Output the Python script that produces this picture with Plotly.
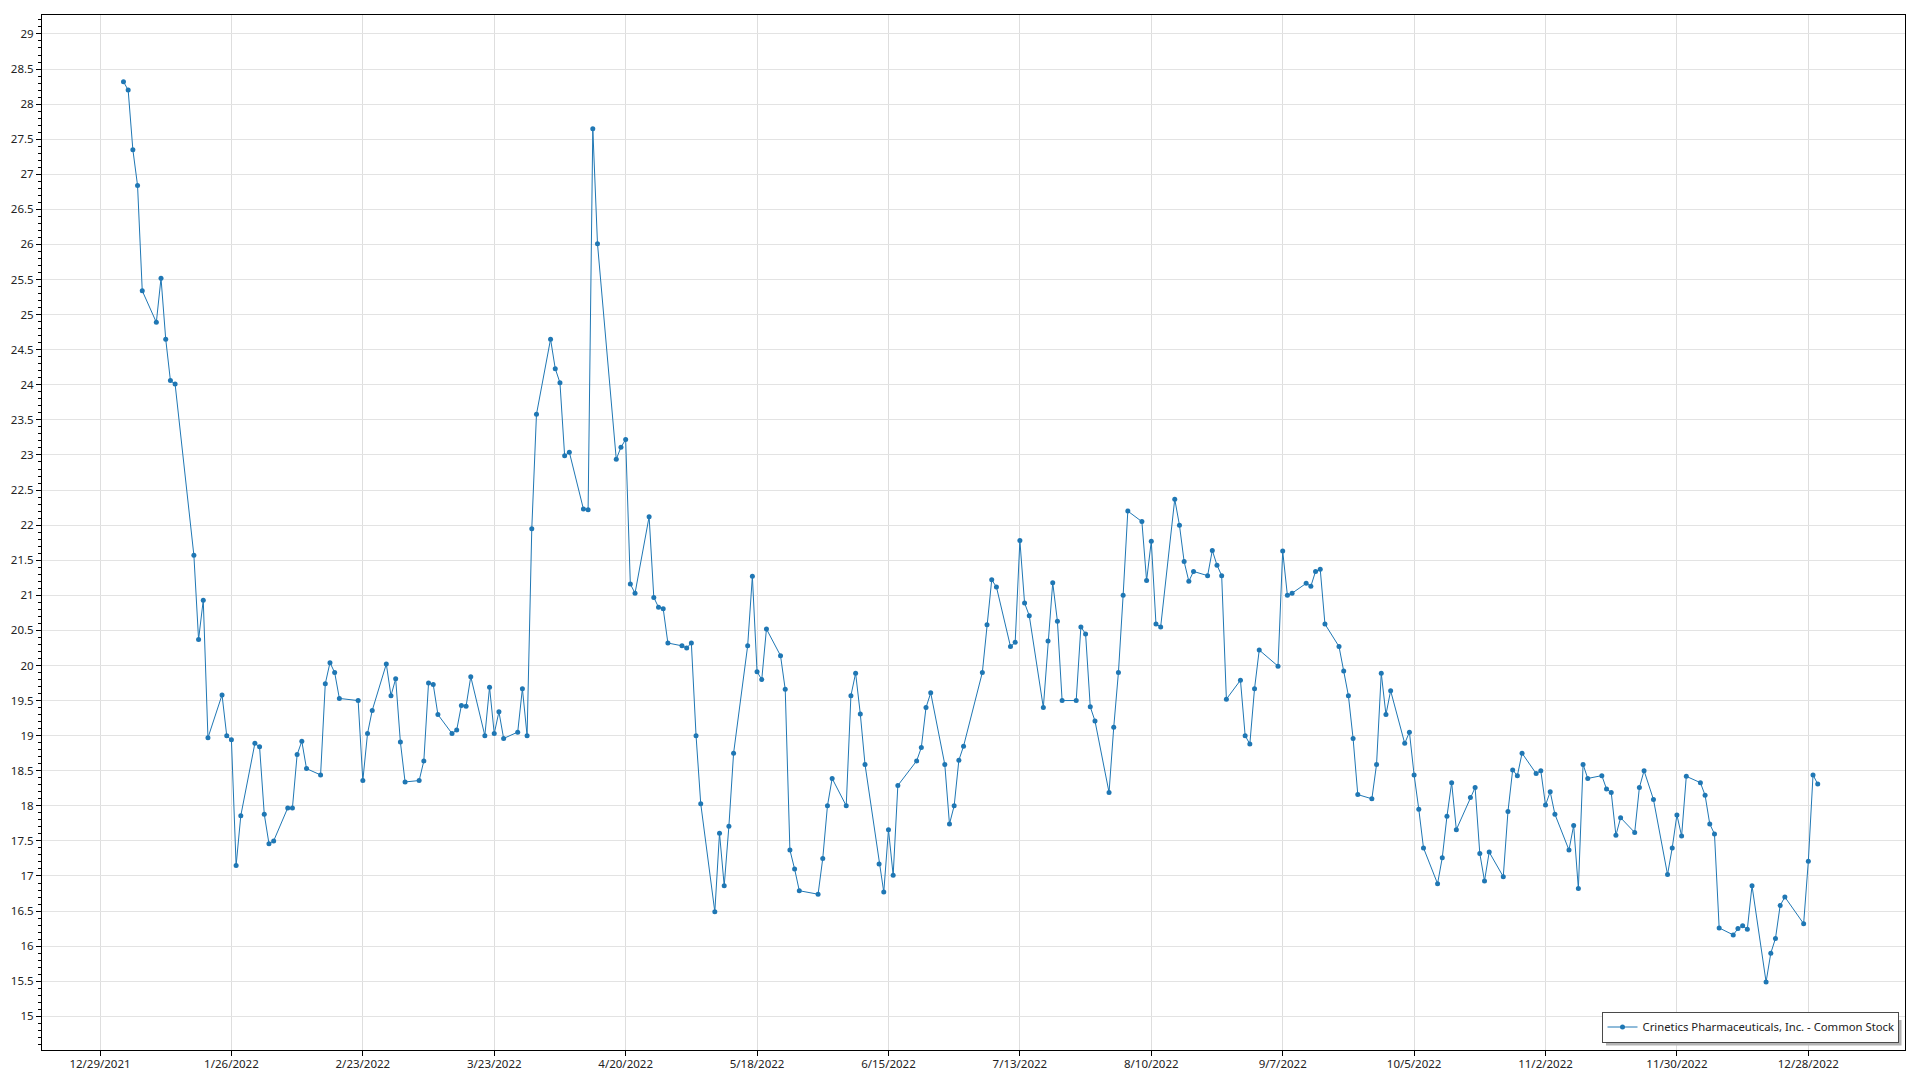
import plotly.graph_objects as go

series_name = "Crinetics Pharmaceuticals, Inc. - Common Stock"

dates = [
    # January 2022
    "2022-01-03", "2022-01-04", "2022-01-05", "2022-01-06", "2022-01-07", "2022-01-10", "2022-01-11",
    "2022-01-12", "2022-01-13", "2022-01-14", "2022-01-18", "2022-01-19", "2022-01-20", "2022-01-21",
    "2022-01-24", "2022-01-25", "2022-01-26", "2022-01-27", "2022-01-28", "2022-01-31",
    # February
    "2022-02-01", "2022-02-02", "2022-02-03", "2022-02-04", "2022-02-07", "2022-02-08", "2022-02-09",
    "2022-02-10", "2022-02-11", "2022-02-14", "2022-02-15", "2022-02-16", "2022-02-17", "2022-02-18",
    "2022-02-22", "2022-02-23", "2022-02-24", "2022-02-25", "2022-02-28",
    # March
    "2022-03-01", "2022-03-02", "2022-03-03", "2022-03-04", "2022-03-07", "2022-03-08", "2022-03-09",
    "2022-03-10", "2022-03-11", "2022-03-14", "2022-03-15", "2022-03-16", "2022-03-17", "2022-03-18",
    "2022-03-21", "2022-03-22", "2022-03-23", "2022-03-24", "2022-03-25", "2022-03-28", "2022-03-29",
    "2022-03-30", "2022-03-31",
    # April
    "2022-04-01", "2022-04-04", "2022-04-05", "2022-04-06", "2022-04-07", "2022-04-08", "2022-04-11",
    "2022-04-12", "2022-04-13", "2022-04-14", "2022-04-18", "2022-04-19", "2022-04-20", "2022-04-21",
    "2022-04-22", "2022-04-25", "2022-04-26", "2022-04-27", "2022-04-28", "2022-04-29",
    # May
    "2022-05-02", "2022-05-03", "2022-05-04", "2022-05-05", "2022-05-06", "2022-05-09", "2022-05-10",
    "2022-05-11", "2022-05-12", "2022-05-13", "2022-05-16", "2022-05-17", "2022-05-18", "2022-05-19",
    "2022-05-20", "2022-05-23", "2022-05-24", "2022-05-25", "2022-05-26", "2022-05-27", "2022-05-31",
    # June
    "2022-06-01", "2022-06-02", "2022-06-03", "2022-06-06", "2022-06-07", "2022-06-08", "2022-06-09",
    "2022-06-10", "2022-06-13", "2022-06-14", "2022-06-15", "2022-06-16", "2022-06-17", "2022-06-21",
    "2022-06-22", "2022-06-23", "2022-06-24", "2022-06-27", "2022-06-28", "2022-06-29", "2022-06-30",
    # July
    "2022-07-01", "2022-07-05", "2022-07-06", "2022-07-07", "2022-07-08", "2022-07-11", "2022-07-12",
    "2022-07-13", "2022-07-14", "2022-07-15", "2022-07-18", "2022-07-19", "2022-07-20", "2022-07-21",
    "2022-07-22", "2022-07-25", "2022-07-26", "2022-07-27", "2022-07-28", "2022-07-29",
    # August
    "2022-08-01", "2022-08-02", "2022-08-03", "2022-08-04", "2022-08-05", "2022-08-08", "2022-08-09",
    "2022-08-10", "2022-08-11", "2022-08-12", "2022-08-15", "2022-08-16", "2022-08-17", "2022-08-18",
    "2022-08-19", "2022-08-22", "2022-08-23", "2022-08-24", "2022-08-25", "2022-08-26", "2022-08-29",
    "2022-08-30", "2022-08-31",
    # September
    "2022-09-01", "2022-09-02", "2022-09-06", "2022-09-07", "2022-09-08", "2022-09-09", "2022-09-12",
    "2022-09-13", "2022-09-14", "2022-09-15", "2022-09-16", "2022-09-19", "2022-09-20", "2022-09-21",
    "2022-09-22", "2022-09-23", "2022-09-26", "2022-09-27", "2022-09-28", "2022-09-29", "2022-09-30",
    # October
    "2022-10-03", "2022-10-04", "2022-10-05", "2022-10-06", "2022-10-07", "2022-10-10", "2022-10-11",
    "2022-10-12", "2022-10-13", "2022-10-14", "2022-10-17", "2022-10-18", "2022-10-19", "2022-10-20",
    "2022-10-21", "2022-10-24", "2022-10-25", "2022-10-26", "2022-10-27", "2022-10-28", "2022-10-31",
    # November
    "2022-11-01", "2022-11-02", "2022-11-03", "2022-11-04", "2022-11-07", "2022-11-08", "2022-11-09",
    "2022-11-10", "2022-11-11", "2022-11-14", "2022-11-15", "2022-11-16", "2022-11-17", "2022-11-18",
    "2022-11-21", "2022-11-22", "2022-11-23", "2022-11-25", "2022-11-28", "2022-11-29", "2022-11-30",
    # December
    "2022-12-01", "2022-12-02", "2022-12-05", "2022-12-06", "2022-12-07", "2022-12-08", "2022-12-09",
    "2022-12-12", "2022-12-13", "2022-12-14", "2022-12-15", "2022-12-16", "2022-12-19", "2022-12-20",
    "2022-12-21", "2022-12-22", "2022-12-23", "2022-12-27", "2022-12-28", "2022-12-29", "2022-12-30",
]

close = [
    # January
    28.32, 28.20, 27.35, 26.84, 25.34, 24.89, 25.52, 24.65, 24.06, 24.01, 21.57, 20.37, 20.93, 18.97,
    19.58, 19.00, 18.94, 17.15, 17.86, 18.89,
    # February
    18.84, 17.88, 17.46, 17.50, 17.97, 17.97, 18.73, 18.92, 18.53, 18.44, 19.74, 20.04, 19.90, 19.53,
    19.50, 18.36, 19.03, 19.36, 20.02,
    # March
    19.57, 19.81, 18.91, 18.34, 18.36, 18.64, 19.75, 19.73, 19.30, 19.03, 19.08, 19.43, 19.42, 19.84,
    19.00, 19.69, 19.03, 19.34, 18.96, 19.05, 19.67, 19.00, 21.95,
    # April
    23.58, 24.65, 24.23, 24.03, 22.99, 23.04, 22.23, 22.22, 27.65, 26.01, 22.94, 23.11, 23.22, 21.16,
    21.03, 22.12, 20.97, 20.83, 20.81, 20.32,
    # May
    20.28, 20.25, 20.32, 19.00, 18.03, 16.49, 17.61, 16.86, 17.71, 18.75, 20.28, 21.27, 19.91, 19.80,
    20.52, 20.14, 19.66, 17.37, 17.10, 16.79, 16.74,
    # June
    17.25, 18.00, 18.39, 18.00, 19.57, 19.89, 19.31, 18.59, 17.17, 16.77, 17.66, 17.01, 18.29, 18.64,
    18.83, 19.40, 19.61, 18.59, 17.74, 18.00, 18.65,
    # July
    18.85, 19.90, 20.58, 21.22, 21.12, 20.27, 20.33, 21.78, 20.89, 20.71, 19.40, 20.35, 21.18, 20.63,
    19.50, 19.50, 20.55, 20.45, 19.41, 19.21,
    # August
    18.19, 19.12, 19.90, 21.00, 22.20, 22.05, 21.21, 21.77, 20.59, 20.55, 22.37, 22.00, 21.48, 21.20,
    21.34, 21.28, 21.64, 21.43, 21.28, 19.52, 19.79, 19.00, 18.88,
    # September
    19.67, 20.22, 19.99, 21.63, 21.00, 21.03, 21.17, 21.13, 21.34, 21.37, 20.59, 20.27, 19.92, 19.57,
    18.96, 18.16, 18.10, 18.59, 19.89, 19.30, 19.64,
    # October
    18.89, 19.05, 18.44, 17.95, 17.40, 16.89, 17.26, 17.85, 18.33, 17.66, 18.12, 18.26, 17.32, 16.93,
    17.34, 16.99, 17.92, 18.51, 18.43, 18.75, 18.46,
    # November
    18.50, 18.01, 18.20, 17.88, 17.37, 17.72, 16.82, 18.59, 18.39, 18.43, 18.24, 18.19, 17.58, 17.83,
    17.62, 18.26, 18.50, 18.09, 17.02, 17.40, 17.87,
    # December
    17.57, 18.42, 18.33, 18.15, 17.74, 17.60, 16.26, 16.16, 16.25, 16.29, 16.24, 16.86, 15.49, 15.90,
    16.11, 16.58, 16.70, 16.32, 17.21, 18.44, 18.31,
]

LINE_COLOR = "#1f77b4"
FONT = "Noto Sans, Segoe UI, sans-serif"

W, H = 1920, 1080
ML, MR, MT, MB = 42, 15, 15, 30
PW, PH = W - ML - MR, H - MT - MB


def px_x(px):
    return (px - ML) / PW


def px_y(py):
    return (H - MB - py) / PH


fig = go.Figure()
fig.add_trace(go.Scatter(
    x=dates, y=close, mode="lines+markers", name=series_name,
    line=dict(color=LINE_COLOR, width=1),
    marker=dict(color=LINE_COLOR, size=5),
    showlegend=True,
))

# legend drop shadow
fig.add_shape(type="rect", xref="paper", yref="paper",
              x0=px_x(1606), x1=px_x(1901.5), y0=px_y(1045.5), y1=px_y(1020),
              fillcolor="#b4b4b4", line=dict(width=0), layer="above")

fig.update_layout(
    width=W, height=H,
    margin=dict(l=ML, r=MR, t=MT, b=MB, autoexpand=False),
    paper_bgcolor="white", plot_bgcolor="white",
    font=dict(family=FONT, size=11.5, color="#222222"),
    showlegend=True,
    legend=dict(
        x=px_x(1898.5), y=px_y(1042.5), xanchor="right", yanchor="bottom",
        orientation="h", entrywidth=250, entrywidthmode="pixels",
        bgcolor="white", bordercolor="#4a4a4a", borderwidth=1,
        font=dict(size=11.3, color="#222222"), itemwidth=30,
    ),
    xaxis=dict(
        type="date", automargin=False,
        range=["2021-12-16 15:20", "2023-01-17 14:20"],
        tick0="2021-12-29", dtick=28 * 86400000,
        tickformat="%-m/%-d/%Y",
        showgrid=True, gridcolor="#dedede", gridwidth=1,
        showline=True, linecolor="black", linewidth=1, mirror=True,
        ticks="outside", ticklen=5, tickcolor="black",
        ticklabelstandoff=-2,
        zeroline=False,
    ),
    yaxis=dict(
        automargin=False,
        range=[14.52, 29.27],
        tick0=0, dtick=0.5,
        showgrid=True, gridcolor="#e3e3e3", gridwidth=1,
        showline=True, linecolor="black", linewidth=1, mirror=True,
        ticks="outside", ticklen=5, tickcolor="black",
        minor=dict(dtick=0.1, ticks="outside", ticklen=3, tickcolor="black", showgrid=False),
        zeroline=False,
    ),
)

fig.write_html("out.html", include_plotlyjs=True, config={"displayModeBar": False},
               post_script="document.body.style.margin='0';document.body.style.overflow='hidden';")
